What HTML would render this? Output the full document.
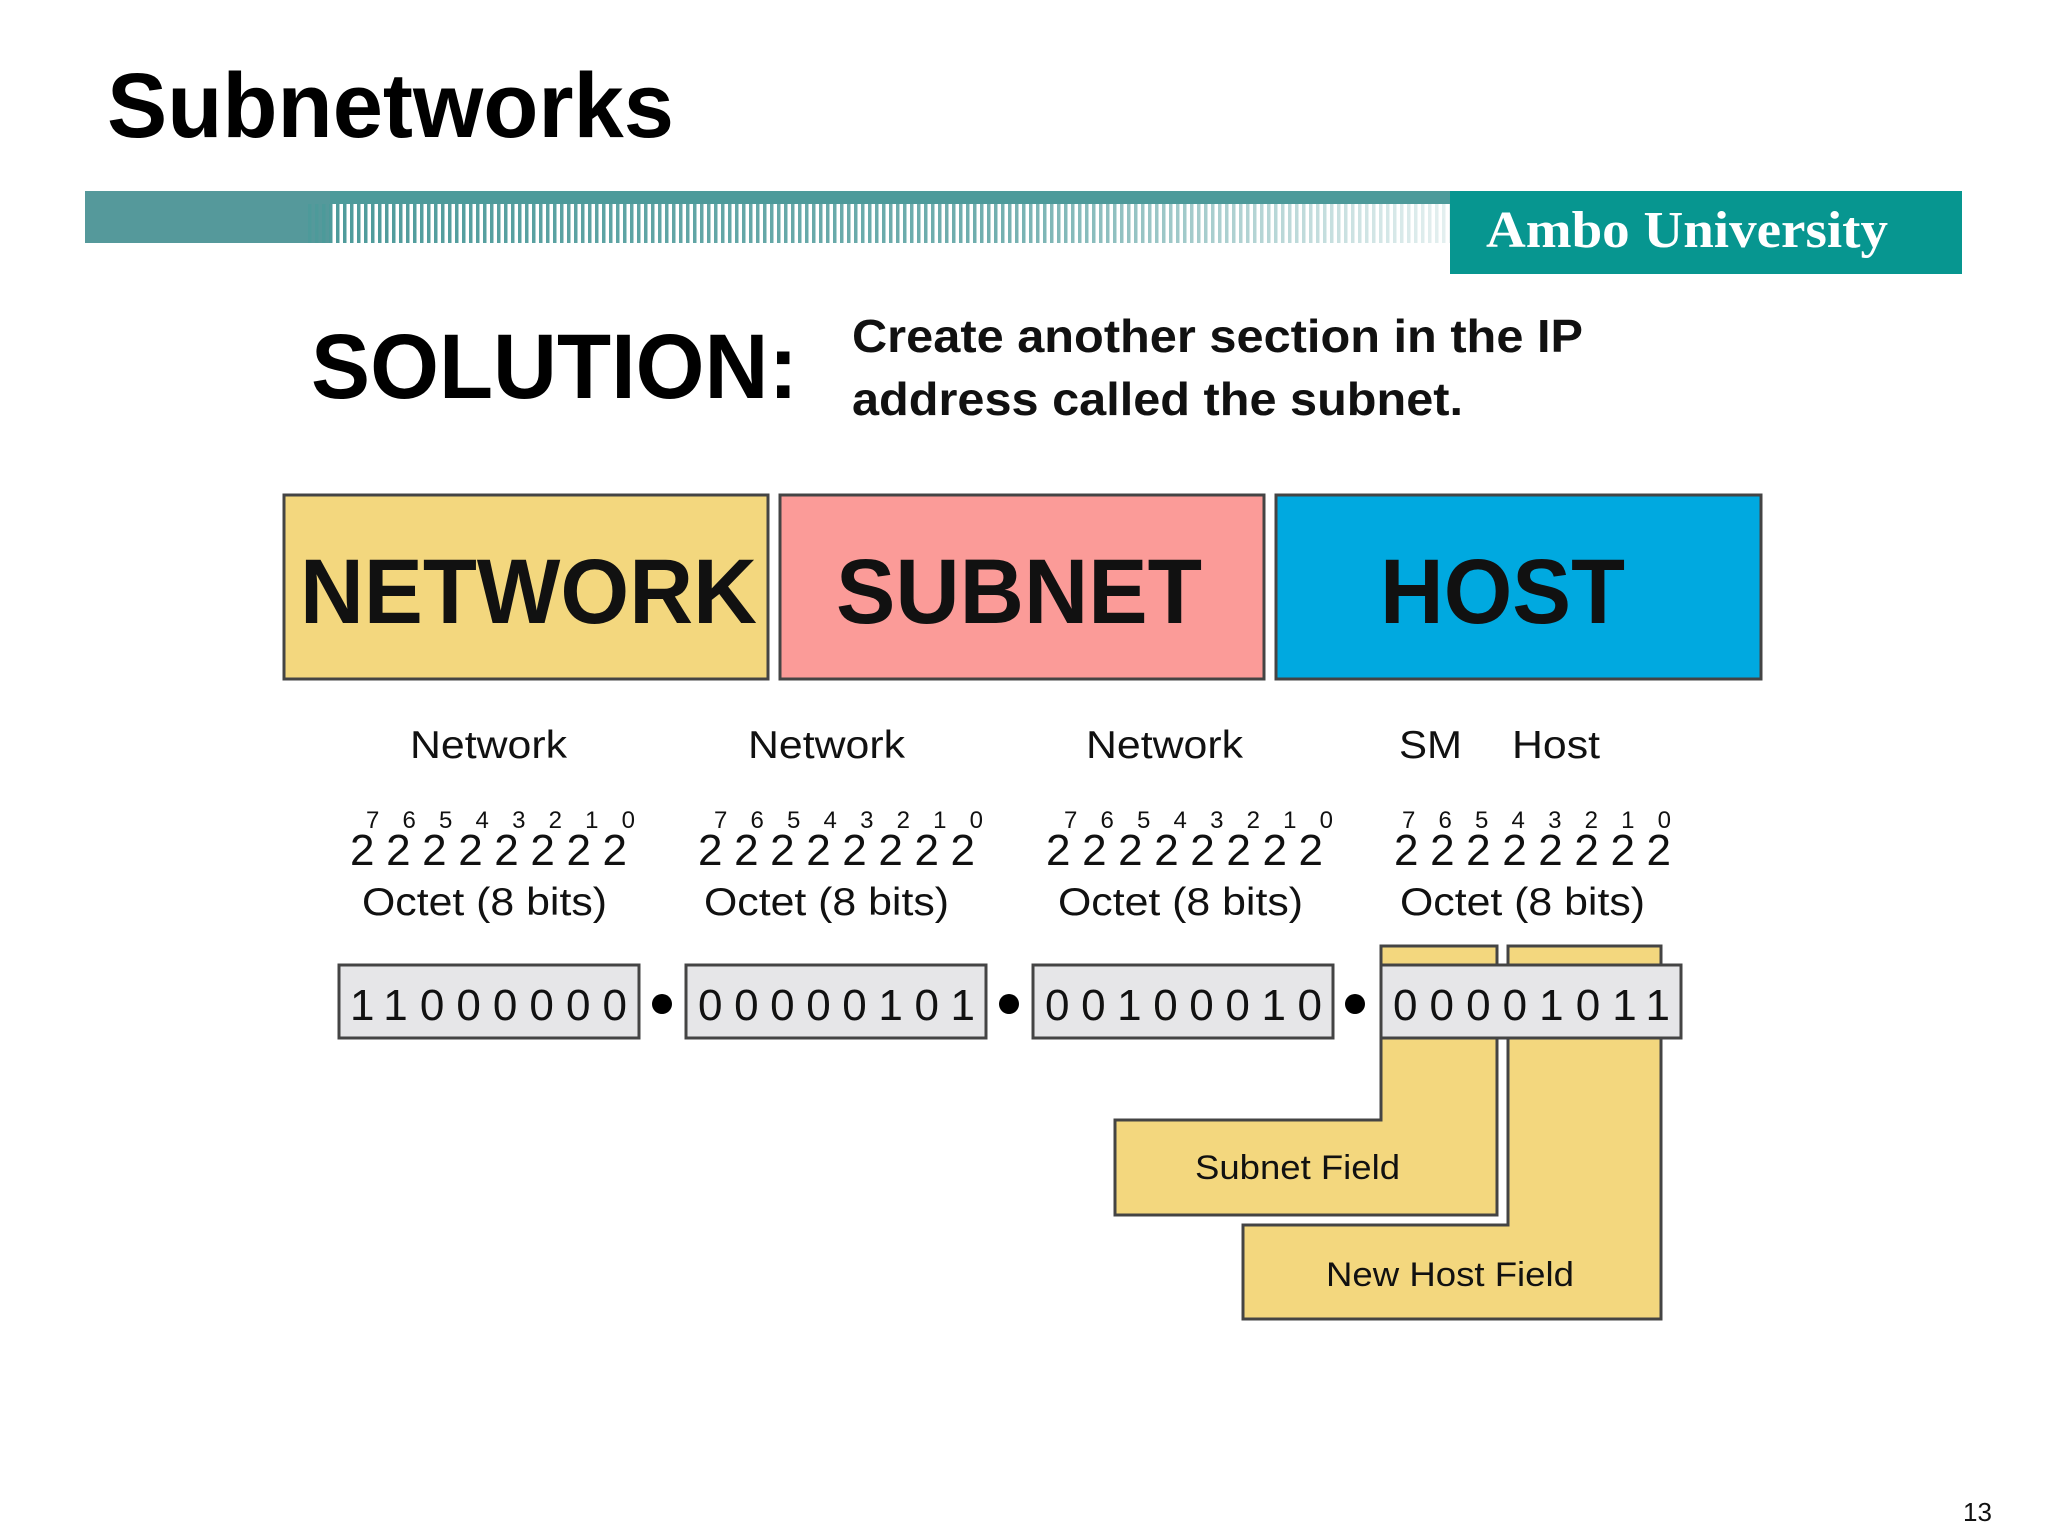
<!DOCTYPE html>
<html><head><meta charset="utf-8"><style>html,body{margin:0;padding:0;background:#fff}svg{display:block}</style></head>
<body>
<svg width="2048" height="1536" viewBox="0 0 2048 1536" xmlns="http://www.w3.org/2000/svg" font-family="Liberation Sans, Arial, sans-serif">
<defs>
<pattern id="st" width="7" height="10" patternUnits="userSpaceOnUse"><rect width="3.5" height="10" fill="#4d9a9a"/></pattern>
<linearGradient id="fade" x1="0" x2="1"><stop offset="0" stop-color="#fff" stop-opacity="1"/><stop offset="0.6" stop-color="#fff" stop-opacity="0.8"/><stop offset="1" stop-color="#fff" stop-opacity="0.15"/></linearGradient>
<mask id="m"><rect x="300" y="190" width="1150" height="60" fill="url(#fade)"/></mask>
</defs>
<rect width="2048" height="1536" fill="#fff"/>
<text x="107" y="137" font-size="92" font-weight="bold" textLength="567" lengthAdjust="spacingAndGlyphs">Subnetworks</text>
<!-- banner -->
<rect x="85" y="191" width="1365" height="13" fill="#4d9a9a"/>
<polygon points="85,191 330,191 330,243 305,243 85,243" fill="#55999b"/>
<rect x="305" y="204" width="1145" height="39" fill="url(#st)" mask="url(#m)"/>
<rect x="1450" y="191" width="512" height="83" fill="#079690"/>
<text x="1486" y="247" font-family="Liberation Serif, serif" font-size="52" fill="#fff" font-weight="bold" textLength="402" lengthAdjust="spacingAndGlyphs">Ambo University</text>
<!-- solution -->
<text x="311" y="398" font-size="92" font-weight="bold" textLength="487" lengthAdjust="spacingAndGlyphs">SOLUTION:</text>
<text x="852" y="352" font-size="46" font-weight="bold" textLength="731" lengthAdjust="spacingAndGlyphs" fill="#111">Create another section in the IP</text>
<text x="852" y="415" font-size="46" font-weight="bold" textLength="611" lengthAdjust="spacingAndGlyphs" fill="#111">address called the subnet.</text>
<!-- big boxes -->
<rect x="284" y="495" width="484" height="184" fill="#f3d77e" stroke="#444" stroke-width="3"/>
<rect x="780" y="495" width="484" height="184" fill="#fb9b98" stroke="#444" stroke-width="3"/>
<rect x="1276" y="495" width="485" height="184" fill="#00a9e0" stroke="#444" stroke-width="3"/>
<text x="300" y="623" font-size="92" font-weight="bold" textLength="457" lengthAdjust="spacingAndGlyphs" fill="#111">NETWORK</text>
<text x="836" y="623" font-size="92" font-weight="bold" textLength="366" lengthAdjust="spacingAndGlyphs" fill="#111">SUBNET</text>
<text x="1380" y="623" font-size="92" font-weight="bold" textLength="245" lengthAdjust="spacingAndGlyphs" fill="#111">HOST</text>
<!-- labels -->
<g font-size="39" fill="#111">
<text x="410" y="758" textLength="157" lengthAdjust="spacingAndGlyphs">Network</text>
<text x="748" y="758" textLength="157" lengthAdjust="spacingAndGlyphs">Network</text>
<text x="1086" y="758" textLength="157" lengthAdjust="spacingAndGlyphs">Network</text>
<text x="1399" y="758" textLength="63" lengthAdjust="spacingAndGlyphs">SM</text>
<text x="1512" y="758" textLength="88" lengthAdjust="spacingAndGlyphs">Host</text>
</g>
<g fill="#111">
<g font-size="24">
<text x="366" y="828" textLength="269" lengthAdjust="spacing">7 6 5 4 3 2 1 0</text>
<text x="714" y="828" textLength="269" lengthAdjust="spacing">7 6 5 4 3 2 1 0</text>
<text x="1064" y="828" textLength="269" lengthAdjust="spacing">7 6 5 4 3 2 1 0</text>
<text x="1402" y="828" textLength="269" lengthAdjust="spacing">7 6 5 4 3 2 1 0</text>
</g>
<g font-size="44">
<text x="350" y="865" textLength="277" lengthAdjust="spacing">22222222</text>
<text x="698" y="865" textLength="277" lengthAdjust="spacing">22222222</text>
<text x="1046" y="865" textLength="277" lengthAdjust="spacing">22222222</text>
<text x="1394" y="865" textLength="277" lengthAdjust="spacing">22222222</text>
</g>
<g font-size="39">
<text x="362" y="915" textLength="245" lengthAdjust="spacingAndGlyphs">Octet (8 bits)</text>
<text x="704" y="915" textLength="245" lengthAdjust="spacingAndGlyphs">Octet (8 bits)</text>
<text x="1058" y="915" textLength="245" lengthAdjust="spacingAndGlyphs">Octet (8 bits)</text>
<text x="1400" y="915" textLength="245" lengthAdjust="spacingAndGlyphs">Octet (8 bits)</text>
</g>
</g>
<!-- yellow fields -->
<path d="M1381,946 H1497 V1215 H1115 V1120 H1381 Z" fill="#f3d77e" stroke="#444" stroke-width="3"/>
<path d="M1508,946 H1661 V1319 H1243 V1225 H1508 Z" fill="#f3d77e" stroke="#444" stroke-width="3"/>
<text x="1195" y="1179" font-size="34" fill="#111" textLength="205" lengthAdjust="spacingAndGlyphs">Subnet Field</text>
<text x="1326" y="1286" font-size="34" fill="#111" textLength="248" lengthAdjust="spacingAndGlyphs">New Host Field</text>
<!-- bit boxes -->
<g fill="#e6e6e8" stroke="#444" stroke-width="3">
<rect x="339" y="965" width="300" height="73"/>
<rect x="686" y="965" width="300" height="73"/>
<rect x="1033" y="965" width="300" height="73"/>
<rect x="1381" y="965" width="300" height="73"/>
</g>
<g font-size="44" fill="#111">
<text x="350" y="1020" textLength="277" lengthAdjust="spacing">11000000</text>
<text x="698" y="1020" textLength="277" lengthAdjust="spacing">00000101</text>
<text x="1045" y="1020" textLength="277" lengthAdjust="spacing">00100010</text>
<text x="1393" y="1020" textLength="277" lengthAdjust="spacing">00001011</text>
</g>
<g fill="#000">
<circle cx="662" cy="1004" r="10"/>
<circle cx="1009" cy="1004" r="10"/>
<circle cx="1355" cy="1004" r="10"/>
</g>
<text x="1963" y="1521" font-size="26" fill="#111">13</text>
</svg>
</body></html>
